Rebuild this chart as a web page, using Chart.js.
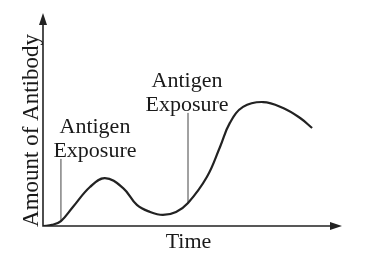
<!DOCTYPE html>
<html>
<head>
<meta charset="utf-8">
<script src="https://cdn.jsdelivr.net/npm/chart.js@4.4.1/dist/chart.umd.min.js"></script>
<style>
  html, body { margin: 0; padding: 0; background: #fff; }
  #wrap { width: 382px; height: 265px; }
</style>
</head>
<body>
<div id="wrap"><canvas id="myChart" width="382" height="265"></canvas></div>
<script>
// antibody curve (time 0-100, amount 0-100)
const timeVals   = [0, 3, 6, 10, 15.7, 20.7, 26.8, 31.4, 35.8, 40.1, 44.5, 48.5, 54.8, 59.2, 62.5, 66.9, 73.6, 80.3, 86.0, 90.0];
const antibody   = [0, 0.5, 2.3, 8.9, 18.3, 22.5, 17.8, 9.9, 6.6, 5.2, 6.6, 10.8, 23.0, 37.1, 48.4, 55.9, 58.2, 55.4, 50.7, 46.0];

// the two exposure markers
const exposureTime = [6, 48.5];
const markerBottom = [2.3, 10.8];
const markerTop    = [31.5, 53.1];
const exposureText = ['Antigen', 'Exposure'];

const xTitle = 'Time';
const yTitle = 'Amount of Antibody';

const FONT = '22px "Liberation Serif", "Times New Roman", serif';
const INK = '#222';

const curve = timeVals.map((t, i) => ({ x: t, y: antibody[i] }));
const markers = exposureTime.map((t, i) => ({
  data: [{ x: t, y: markerBottom[i] }, { x: t, y: markerTop[i] }],
  borderColor: '#444',
  borderWidth: 1,
  pointRadius: 0,
  tension: 0
}));

const axesAndText = {
  id: 'axesAndText',
  afterDraw(chart) {
    const ctx = chart.ctx;
    const a = chart.chartArea;
    ctx.save();
    ctx.strokeStyle = INK;
    ctx.fillStyle = INK;
    ctx.lineWidth = 1.6;
    // axes
    ctx.beginPath();
    ctx.moveTo(a.left, a.top + 8);
    ctx.lineTo(a.left, a.bottom);
    ctx.lineTo(a.right - 8, a.bottom);
    ctx.stroke();
    // arrowheads
    ctx.beginPath();
    ctx.moveTo(a.left, a.top);
    ctx.lineTo(a.left - 4, a.top + 12);
    ctx.lineTo(a.left + 4, a.top + 12);
    ctx.closePath();
    ctx.fill();
    ctx.beginPath();
    ctx.moveTo(a.right, a.bottom);
    ctx.lineTo(a.right - 12, a.bottom - 4);
    ctx.lineTo(a.right - 12, a.bottom + 4);
    ctx.closePath();
    ctx.fill();

    ctx.font = FONT;
    ctx.textAlign = 'center';
    ctx.textBaseline = 'alphabetic';
    ctx.fillStyle = '#1a1a1a';
    // exposure labels
    const xs = chart.scales.x, ys = chart.scales.y;
    const labelShift = [34, -1];
    exposureTime.forEach((t, i) => {
      const cx = xs.getPixelForValue(t) + labelShift[i];
      const base = ys.getPixelForValue(markerTop[i]) - 2;
      ctx.fillText(exposureText[0], cx, base - 24);
      ctx.fillText(exposureText[1], cx, base);
    });
    // axis titles
    ctx.fillText(xTitle, (a.left + a.right) / 2 - 4, a.bottom + 22);
    ctx.save();
    ctx.font = '23px "Liberation Serif", "Times New Roman", serif';
    ctx.translate(a.left - 5, (a.top + a.bottom) / 2 + 11);
    ctx.rotate(-Math.PI / 2);
    ctx.fillText(yTitle, 0, 0);
    ctx.restore();
    ctx.restore();
  }
};

new Chart(document.getElementById('myChart'), {
  type: 'line',
  data: {
    datasets: [{
      data: curve,
      borderColor: INK,
      borderWidth: 2.2,
      pointRadius: 0,
      tension: 0.4
    }, ...markers]
  },
  options: {
    responsive: false,
    animation: false,
    layout: { padding: { left: 43, top: 13, right: 40, bottom: 39 } },
    plugins: { legend: { display: false }, tooltip: { enabled: false } },
    scales: {
      x: { type: 'linear', min: 0, max: 100, display: false },
      y: { min: 0, max: 100, display: false }
    }
  },
  plugins: [axesAndText]
});
</script>
</body>
</html>
